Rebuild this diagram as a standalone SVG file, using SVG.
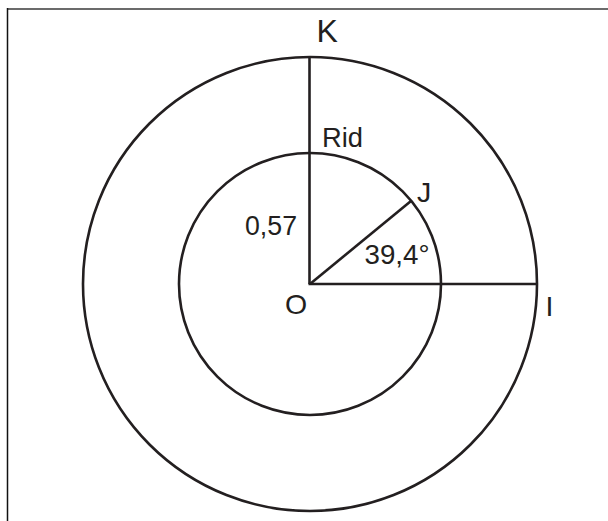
<svg xmlns="http://www.w3.org/2000/svg" width="608" height="521" viewBox="0 0 608 521">
<style>
.s{fill:none;stroke:#231f20;stroke-width:2.6}
.t{font-family:"Liberation Sans",Arial,sans-serif;font-size:28.5px;fill:#231f20}
</style>
<rect width="608" height="521" fill="#fff"/>
<line x1="7" y1="9" x2="608" y2="9" stroke="#6b6b6b" stroke-width="2"/>
<line x1="7.5" y1="8" x2="7.5" y2="521" stroke="#111" stroke-width="1.5"/>
<g id="outer-circle"><circle class="s" cx="310" cy="284" r="227"/></g>
<g id="inner-circle"><circle class="s" cx="310" cy="284" r="131"/></g>
<g id="connectors">
<line class="s" x1="309.5" y1="57" x2="309.5" y2="284"/>
<line class="s" x1="308.5" y1="284" x2="537" y2="284"/>
<line class="s" x1="310" y1="284" x2="411" y2="201"/>
</g>
<g id="K"><text class="t" x="316.5" y="42.3" style="font-size:32px">K</text></g>
<g id="Rid"><text class="t" x="322" y="146.7" textLength="41" lengthAdjust="spacingAndGlyphs">Rid</text></g>
<g id="J"><text class="t" x="417" y="201.5">J</text></g>
<g id="len"><text class="t" x="245" y="235" textLength="52" lengthAdjust="spacingAndGlyphs">0,57</text></g>
<g id="angle"><text class="t" x="364.5" y="264" textLength="65" lengthAdjust="spacingAndGlyphs">39,4°</text></g>
<g id="O"><text class="t" x="285" y="313.5">O</text></g>
<g id="I"><text class="t" x="545.5" y="316">I</text></g>
</svg>
